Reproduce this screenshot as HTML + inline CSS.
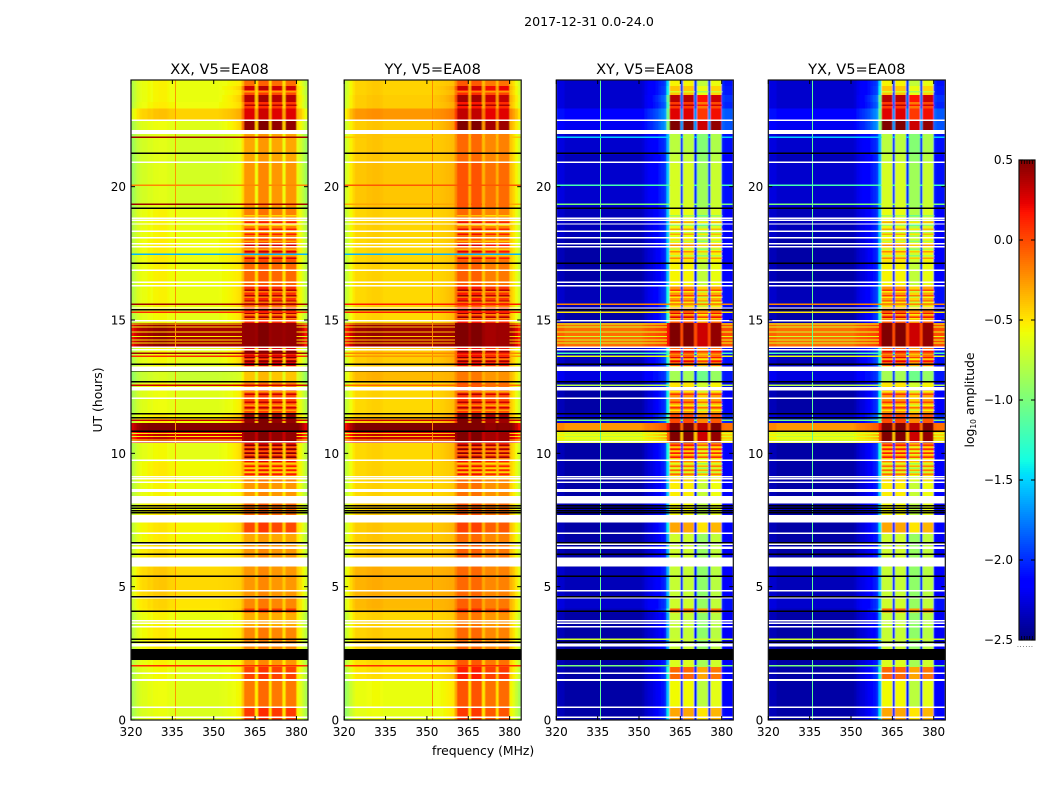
<!DOCTYPE html>
<html>
<head>
<meta charset="utf-8">
<title>2017-12-31 0.0-24.0</title>
<style>
html,body{margin:0;padding:0;background:#fff;}
svg{display:block;}
text{font-family:"DejaVu Sans","Liberation Sans",sans-serif;fill:#000;}
</style>
</head>
<body>
<svg id="fig" xmlns="http://www.w3.org/2000/svg" width="1050" height="800" viewBox="0 0 1050 800">
  <defs>
    <filter id="soft" x="-5%" y="-2%" width="110%" height="104%"><feGaussianBlur stdDeviation="0.55 0.25"/></filter>
  </defs>
  <text x="589" y="26" font-size="12.6" text-anchor="middle">2017-12-31 0.0-24.0</text>
  <text x="432" y="755" font-size="12.4">frequency (MHz)</text>
  <text transform="translate(102,400) rotate(-90)" font-size="12.4" text-anchor="middle">UT (hours)</text>
  <text transform="translate(974,400) rotate(-90)" font-size="12.4" text-anchor="middle">log<tspan font-size="7.5" dy="2">10</tspan><tspan dy="-2"> amplitude</tspan></text>
</svg>
<script>
// ---- axis tick data
const xTicks = [320, 335, 350, 365, 380];
const xTickLabels = ['320', '335', '350', '365', '380'];
const yTicks = [0, 5, 10, 15, 20];
const yTickLabels = ['0', '5', '10', '15', '20'];
const cbTicks = [-2.5, -2, -1.5, -1, -0.5, 0, 0.5];
const cbTickLabels = ['\u22122.5', '\u22122.0', '\u22121.5', '\u22121.0', '\u22120.5', '0.0', '0.5'];
const panelTitles = ['XX, V5=EA08', 'YY, V5=EA08', 'XY, V5=EA08', 'YX, V5=EA08'];

// ---- UT segment start hours (each runs to the next start, last to 24 h)
const segmentStarts = [0,0.5,1.5,2,2.25,2.7,3.5,4.05,4.2,4.6,5.75,6.1,6.6,7,7.5,7.7,8.4,9,9.7,10.4,10.85,11.15,11.5,12.4,12.7,13.1,13.3,14,14.9,15.4,16.3,17.2,18.1,19.2,20.9,21.2,22,22.5,22.95,23.2,23.45,23.65,23.8];

// ---- log10 amplitude per segment: quiet band (320-352 MHz) and active band (360-380 MHz)
const xxLow = [-.64,-.62,-.6,-.58,-.58,-.55,-.58,-.5,-.48,-.44,-.5,-.5,-.55,-.53,-.55,-.55,-.58,-.55,-.6,.3,.5,-.55,-.62,-.6,-.7,-.6,-.6,.42,-.6,-.58,-.57,-.56,-.58,-.66,-.66,-.66,-.62,-.42,-.56,-.58,-.58,-.58,-.58];
const xxHigh = [.05,-.15,.02,-.25,-.25,-.2,-.32,.05,-.2,-.25,-.25,-.25,-.3,0,-.2,-.1,-.25,-.15,.2,.45,.5,.45,0,-.2,-.4,-.2,.25,.45,.1,.08,-.1,-.03,-.18,-.25,-.3,-.3,.45,.25,.05,.35,0,.3,-.12];
const yyLow = [-.62,-.6,-.5,-.48,-.48,-.44,-.46,-.38,-.36,-.34,-.4,-.42,-.42,-.42,-.44,-.44,-.46,-.46,-.46,.3,.5,-.42,-.46,-.46,-.36,-.42,-.42,.42,-.46,-.46,-.46,-.46,-.45,-.4,-.42,-.42,-.42,-.25,-.42,-.42,-.44,-.44,-.44];
const yyHigh = [0,-.08,.08,-.1,-.1,-.15,-.2,.05,-.12,-.15,-.15,-.12,-.15,-.02,-.12,-.08,-.18,-.15,.15,.45,.5,.45,.02,-.1,-.2,-.15,.15,.45,.12,.1,-.12,-.1,-.15,-.08,-.15,-.15,.45,.28,.12,.35,.05,.25,-.1];
const xyLow = [-2.4,-2.4,-2.4,-2.4,-2.4,-2.4,-2.4,-2.35,-2.3,-2.35,-2.4,-2.4,-2.4,-2.4,-2.4,-2.4,-2.4,-2.4,-2.4,-.6,-.25,-2.3,-2.4,-2.4,-2.25,-2.35,-2.35,-.12,-2.4,-2.35,-2.4,-2.4,-2.35,-2.3,-2.35,-2.3,-2.2,-2.15,-2.3,-2.3,-2.3,-2.3,-2.3];
const xyHigh = [-.35,-.62,-.15,-.7,-.7,-.78,-.78,-.12,-.75,-.78,-.75,-.75,-.75,-.35,-.65,-.62,-.58,-.45,-.2,.45,.5,-.05,-.28,-.55,-.9,-.65,-.12,.45,-.1,-.3,-.6,-.55,-.65,-.72,-.78,-.82,.45,.2,0,.3,-.45,-.45,-.6];
const yxLow = [-2.4,-2.4,-2.4,-2.4,-2.4,-2.4,-2.4,-2.35,-2.3,-2.35,-2.4,-2.4,-2.4,-2.4,-2.4,-2.4,-2.4,-2.4,-2.4,-.6,-.25,-2.3,-2.4,-2.4,-2.25,-2.35,-2.35,-.12,-2.4,-2.35,-2.4,-2.4,-2.35,-2.3,-2.35,-2.3,-2.2,-2.15,-2.3,-2.3,-2.3,-2.3,-2.3];
const yxHigh = [-.35,-.62,-.15,-.7,-.7,-.78,-.78,-.12,-.75,-.78,-.75,-.75,-.75,-.35,-.65,-.62,-.58,-.45,-.2,.45,.5,-.05,-.28,-.55,-.9,-.65,-.12,.45,-.1,-.3,-.6,-.55,-.65,-.72,-.78,-.82,.45,.2,0,.3,-.45,-.45,-.6];

// ---- one entry per 1 MHz channel, 320..383: how much the channel follows the active band
const bandWeight = [0,0,0,0,0,0,0,0,0,0,0,0,0,0,0,0,0,0,0,0,0,0,0,0,0,0,0,0,0,0,0,0,.02,.04,.05,.07,.09,.12,.15,.18,.45,1,1,1,1,.2,1,1,1,1,.2,1,1,1,1,.2,1,1,1,1,.12,.1,.1,.1];
// ---- per-channel amplitude offsets
const xxShape = [-.22,-.15,-.08,-.04,-.02,-.02,.01,0,.03,.03,.04,.04,.04,.02,0,0,-.02,-.02,-.02,-.02,-.02,-.02,-.02,-.02,-.02,-.02,-.02,-.02,-.02,-.02,-.02,-.02,-.02,-.02,-.02,-.02,-.02,-.02,-.02,-.02,0,0,0,0,0,0,.05,.05,.05,.05,0,0,0,0,0,0,0,0,0,0,0,-.05,-.15,-.25];
const yyShape = [-.3,-.22,-.12,-.05,0,0,0,0,.02,.02,.03,.03,.03,.02,0,0,0,0,0,0,0,0,0,0,0,0,0,0,0,0,0,0,0,0,0,0,0,0,0,0,.05,.05,.05,.05,.05,0,.05,.05,.05,.05,0,-.05,-.05,-.05,-.05,0,-.03,-.03,-.03,-.03,-.02,-.08,-.18,-.3];
const xyShape = [.05,.05,.05,0,0,0,0,0,0,0,0,0,0,0,0,0,0,0,0,0,0,0,0,0,0,0,0,0,0,0,0,.03,.05,.05,.05,.05,.05,.05,.05,.05,.05,.05,.05,.05,.05,0,.05,.05,.05,.05,0,-.15,-.15,-.15,-.15,0,0,0,0,0,.05,.05,.05,.05];

// ---- fine striping of the active band (hours), brighter and dimmer rows
const hotStripeHours = [9.2,9.35,9.5,9.85,10,10.15,10.3,11.7,11.9,12.2,13.45,13.6,13.8,15.1,15.25,15.7,15.9,16.1,17.3,17.55,17.8,18.2,18.4,18.65,23.05];
const coolStripeHours = [9.1,9.28,9.43,9.6,9.78,9.93,10.07,10.22,11.6,11.8,12.05,12.3,13.52,13.72,15.03,15.18,15.5,15.65,15.85,16.05,17.4,17.65,17.95,18.3,18.55,18.9,23.55];
// ---- stripes through the quiet band during the bright bursts
const lowStripeHours = [10.5,10.62,10.73,14.12,14.25,14.38,14.55,14.72,14.85];
const lowStripeXX = [-.5,-.5,-.5,-.5,-.5,-.5,-.5,-.5,-.5];
const lowStripeYY = [-.4,-.4,-.4,-.4,-.4,-.4,-.4,-.4,-.4];
const lowStripeXY = [-.75,-.75,-.75,-.7,-.7,-.7,-.7,-.7,-.7];

// ---- single-row flares (-9 means flagged black)
const lineHours = [2.03,3.03,11.24,12.55,13.09,13.64,13.75,15.29,15.59,19.34,20.06,21.85];
const lineXX = [.1,-9,.3,.3,-9,.1,.42,.1,.42,.42,-.2,.42];
const lineYY = [.1,-9,.3,-.1,-9,-.25,-.2,.15,.15,-.3,-.05,-.4];
const lineXY = [-1,-.7,-1,-.8,-2.3,-.6,-1.2,-.5,-.2,-1,-1.2,-1.5];
// ---- low-amplitude dropout rows in the parallel hands
const dropoutHours = [17.46];
const dropoutValues = [-1.6];

// ---- rows with no data (white) and flagged rows (black)
const whiteHours = [.1,.48,1.75,3.5,3.62,3.72,4.58,4.85,6.59,7,7.44,8.15,8.58,8.64,8.91,9.05,9.13,9.74,10.43,12.06,13.88,13.97,14.97,15.45,16.28,16.41,16.86,17.75,17.86,18.09,18.32,18.6,18.74,18.81,20.91,22.49];
const whiteSpanStarts = [1.46,2.75,5.75,6.41,7.46,8.18,12.35,13.09,21.98];
const whiteSpanEnds = [1.54,2.87,6.1,6.5,7.69,8.4,12.49,13.25,22.13];
const blackHours = [2.91,4.08,4.63,5.39,6.21,6.65,7.77,7.85,7.94,8.03,10.82,11.34,11.49,12.69,13.34,15.38,17.13,19.19,21.25];
const blackSpanStarts = [2.25];
const blackSpanEnds = [2.66];

// ---- narrow RFI channel per panel (MHz, log10 amplitude)
const rfiFreqs = [335.9, 351.8, 335.9, 335.9];
const rfiValues = [-.25, -.2, -1.1, -1.1];

// ---- layout
const SVGNS = 'http://www.w3.org/2000/svg';
const fig = document.getElementById('fig');
const panelLefts = [131, 344.2, 556.3, 768.3];
const panelWidth = 177, plotTop = 80, plotBottom = 720;
const freqMin = 320, freqMax = 384.2, utMax = 24;
const thinRow = 0.055;
const vMin = -2.5, vMax = 0.5;

const panels = [
  {low: xxLow, high: xxHigh, shape: xxShape, line: lineXX, stripe: lowStripeXX, parallel: true},
  {low: yyLow, high: yyHigh, shape: yyShape, line: lineYY, stripe: lowStripeYY, parallel: true},
  {low: xyLow, high: xyHigh, shape: xyShape, line: lineXY, stripe: lowStripeXY, parallel: false},
  {low: yxLow, high: yxHigh, shape: xyShape, line: lineXY, stripe: lowStripeXY, parallel: false}
];

function interp(stops, t) {
  for (let i = 1; i < stops.length; i++) {
    if (t <= stops[i][0]) {
      const a = stops[i - 1], b = stops[i];
      return a[1] + (b[1] - a[1]) * (t - a[0]) / (b[0] - a[0]);
    }
  }
  return stops[stops.length - 1][1];
}
const jetR = [[0,0],[.35,0],[.66,1],[.89,1],[1,.5]];
const jetG = [[0,0],[.125,0],[.375,1],[.64,1],[.91,0],[1,0]];
const jetB = [[0,.5],[.11,1],[.34,1],[.65,0],[1,0]];
function colorOf(v) {
  if (v <= -9) return '#000';
  const t = Math.max(0, Math.min(1, (v - vMin) / (vMax - vMin)));
  const c = x => Math.round(255 * interp(x, t));
  return 'rgb(' + c(jetR) + ',' + c(jetG) + ',' + c(jetB) + ')';
}
function yScale(h) { return plotBottom - (h / utMax) * (plotBottom - plotTop); }
function xScale(left, f) { return left + (f - freqMin) / (freqMax - freqMin) * panelWidth; }
function cbY(v) { return 640 - (v - vMin) / (vMax - vMin) * 480; }

function make(tag, parent, attrs) {
  const el = document.createElementNS(SVGNS, tag);
  for (const k in attrs) el.setAttribute(k, attrs[k]);
  parent.appendChild(el);
  return el;
}
function segmentIndex(h) {
  let s = 0;
  for (let i = 0; i < segmentStarts.length; i++) if (segmentStarts[i] <= h) s = i;
  return s;
}
function cellValue(p, seg, ch) {
  const lo = p.low[seg], hi = p.high[seg];
  return lo + bandWeight[ch] * (hi - lo) + p.shape[ch];
}
function segTop(i) { return i + 1 < segmentStarts.length ? segmentStarts[i + 1] : utMax; }

panels.forEach(function (p, pi) {
  const left = panelLefts[pi];
  const g = make('g', fig, {});
  
  

  const clipId = 'clip' + pi;
  const clip = make('clipPath', g, {id: clipId});
  make('rect', clip, {x: left, y: plotTop, width: panelWidth, height: plotBottom - plotTop});

  const clipped = make('g', g, {'clip-path': 'url(#' + clipId + ')', 'shape-rendering': 'crispEdges'});
  const soft = make('g', clipped, {filter: 'url(#soft)'});

  // heatmap cells by segment and channel
  segmentStarts.forEach(function (start, s) {
    bandWeight.forEach(function (w, ch) {
      const x0 = xScale(left, freqMin + ch), x1 = xScale(left, freqMin + ch + 1);
      const y1 = yScale(start), y0 = yScale(segTop(s));
      const r = make('rect', soft, {x: x0, y: y0, width: x1 - x0 + 0.5, height: y1 - y0 + 0.5, fill: colorOf(cellValue(p, s, ch))});
      
      
    });
  });

  // stripes across the active band
  function stripeActive(hours, delta) {
    hours.forEach(function (h) {
      const s = segmentIndex(h);
      bandWeight.forEach(function (w, ch) {
        if (w < 0.7) return;
        const x0 = xScale(left, freqMin + ch), x1 = xScale(left, freqMin + ch + 1);
        const r = make('rect', soft, {x: x0, y: yScale(h + 0.04), width: x1 - x0 + 0.5, height: 1.6, fill: colorOf(cellValue(p, s, ch) + delta)});
        
        
      });
    });
  }
  stripeActive(hotStripeHours, 0.3);
  stripeActive(coolStripeHours, -0.28);

  // stripes across the quiet band
  lowStripeHours.forEach(function (h, i) {
    bandWeight.forEach(function (w, ch) {
      if (w >= 0.2) return;
      const x0 = xScale(left, freqMin + ch), x1 = xScale(left, freqMin + ch + 1);
      const r = make('rect', clipped, {x: x0, y: yScale(h + thinRow / 2), width: x1 - x0 + 0.5, height: 1, fill: colorOf(p.stripe[i] + p.shape[ch] + w * 0.3)});
      
      
    });
  });

  // narrow RFI channel
  const rfi = make('rect', clipped, {x: xScale(left, rfiFreqs[pi]), y: plotTop, width: 1, height: plotBottom - plotTop, fill: colorOf(rfiValues[pi])});
  
  

  // single-row flares
  lineHours.forEach(function (h, i) {
    const s = segmentIndex(h), v = p.line[i];
    bandWeight.forEach(function (w, ch) {
      const x0 = xScale(left, freqMin + ch), x1 = xScale(left, freqMin + ch + 1);
      const val = v <= -9 ? v : Math.max(v, cellValue(p, s, ch));
      const r = make('rect', clipped, {x: x0, y: yScale(h + thinRow / 2), width: x1 - x0 + 0.5, height: 1.5, fill: colorOf(val)});
      
      
    });
  });

  // dropout rows
  if (p.parallel) {
    dropoutHours.forEach(function (h, i) {
      const r = make('rect', clipped, {x: left, y: yScale(h + thinRow / 2), width: panelWidth, height: 1.5, fill: colorOf(dropoutValues[i])});
      
      
    });
  }

  // white rows
  whiteHours.forEach(function (h) {
    const r = make('rect', clipped, {x: left, y: yScale(h + thinRow / 2), width: panelWidth, height: (thinRow / utMax) * 640, fill: '#fff'});
    
    
  });
  whiteSpanStarts.forEach(function (h, i) {
    const r = make('rect', clipped, {x: left, y: yScale(whiteSpanEnds[i]), width: panelWidth, height: yScale(h) - yScale(whiteSpanEnds[i]), fill: '#fff'});
    
    
  });

  // black rows
  blackHours.forEach(function (h) {
    const r = make('rect', clipped, {x: left, y: yScale(h + thinRow / 2), width: panelWidth, height: (thinRow / utMax) * 640, fill: '#000'});
    
    
  });
  blackSpanStarts.forEach(function (h, i) {
    const r = make('rect', clipped, {x: left, y: yScale(blackSpanEnds[i]), width: panelWidth, height: yScale(h) - yScale(blackSpanEnds[i]), fill: '#000'});
    
    
  });

  // frame
  const frame = make('rect', g, {x: left, y: plotTop, width: panelWidth, height: plotBottom - plotTop, fill: 'none', stroke: '#111', 'stroke-width': 1.2});
  
  

  // title
  const title = make('text', g, {x: left + panelWidth / 2, y: 74, 'font-size': 14.6, 'text-anchor': 'middle'});
  title.textContent = panelTitles[pi];
  
  

  // x ticks
  xTicks.forEach(function (t, i) {
    const x = xScale(left, t);
    const b = make('line', g, {x1: x, x2: x, y1: plotBottom, y2: plotBottom - 4, stroke: '#000', 'stroke-width': 1});
    
    
    const a = make('line', g, {x1: x, x2: x, y1: plotTop, y2: plotTop + 4, stroke: '#000', 'stroke-width': 1});
    
    
    const l = make('text', g, {x: x, y: 736, 'font-size': 12, 'text-anchor': 'middle'});
    l.textContent = xTickLabels[i];
    
    
  });

  // y ticks
  yTicks.forEach(function (t, i) {
    const y = yScale(t);
    const a = make('line', g, {x1: left, x2: left + 4, y1: y, y2: y, stroke: '#000', 'stroke-width': 1});
    
    
    const b = make('line', g, {x1: left + panelWidth, x2: left + panelWidth - 4, y1: y, y2: y, stroke: '#000', 'stroke-width': 1});
    
    
    const l = make('text', g, {x: left - 5, y: y + 4.5, 'font-size': 12, 'text-anchor': 'end'});
    l.textContent = yTickLabels[i];
    
    
  });
});

// ---- colorbar
const cb = make('g', fig, {});


const cbLeft = 1019, cbWidth = 16;
for (let k = 0; k < 240; k++) {
  const v = vMin + (k + 0.5) / 240 * (vMax - vMin);
  const s = make('rect', cb, {x: cbLeft, y: cbY(v) - 1, width: cbWidth, height: 2.2, fill: colorOf(v), 'shape-rendering': 'crispEdges'});
  
  
}
const cbFrame = make('rect', cb, {x: cbLeft, y: 160, width: cbWidth, height: 480, fill: 'none', stroke: '#111', 'stroke-width': 1.2});


cbTicks.forEach(function (t, i) {
  const y = cbY(t);
  const a = make('line', cb, {x1: cbLeft, x2: cbLeft + 4, y1: y, y2: y, stroke: '#000', 'stroke-width': 1});
  
  
  const b = make('line', cb, {x1: cbLeft + cbWidth, x2: cbLeft + cbWidth - 4, y1: y, y2: y, stroke: '#000', 'stroke-width': 1});
  
  
  const l = make('text', cb, {x: cbLeft - 6, y: y + 4, 'font-size': 12, 'text-anchor': 'end'});
  l.textContent = cbTickLabels[i];
  
  
});
for (let k = 1; k < 6; k++) {
  const x = cbLeft + k * cbWidth / 6;
  const a = make('line', cb, {x1: x, x2: x, y1: 160, y2: 164, stroke: '#000', 'stroke-width': 0.8});
  
  
  const b = make('line', cb, {x1: x, x2: x, y1: 640, y2: 636, stroke: '#000', 'stroke-width': 0.8});
  
  
}
const cbDots = make('text', cb, {x: 1017, y: 647, 'font-size': 6, fill: '#777', 'letter-spacing': 0.9});
cbDots.textContent = '......';


</script>
</body>
</html>
